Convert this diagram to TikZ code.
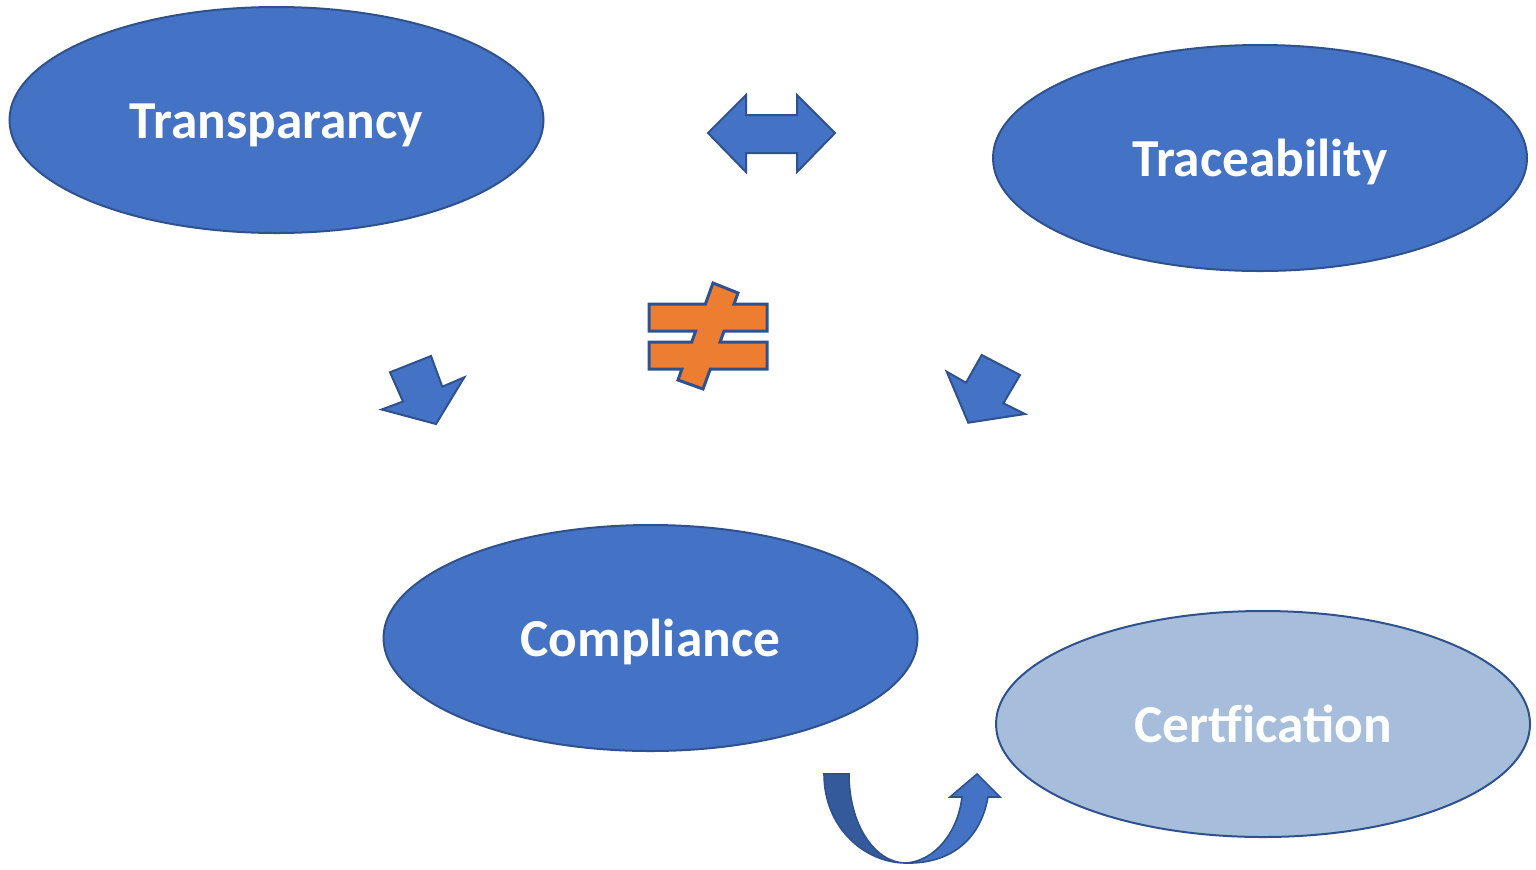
\documentclass[tikz,border=0pt]{standalone}
\usepackage{fontspec}
\setmainfont{Carlito}
\usetikzlibrary{shapes.geometric}
\definecolor{nodeblue}{HTML}{4472C4}
\definecolor{edgeblue}{HTML}{2F528F}
\definecolor{lightblue}{RGB}{166,190,220}
\definecolor{darkband}{RGB}{52,90,156}
\definecolor{neqorange}{HTML}{ED7D31}
\tikzset{
  oval/.style={ellipse, draw=edgeblue, line width=1pt, fill=nodeblue, minimum width=267pt, minimum height=113pt, inner sep=0pt},
  lbl/.style={anchor=base, text=white, font=\bfseries\fontsize{26.7}{30}\selectfont, inner sep=0pt},
  blockarrow/.style={draw=edgeblue, line width=1pt, fill=nodeblue, line join=miter},
}
\begin{document}
\begin{tikzpicture}[x=0.5pt,y=-0.5pt]
\useasboundingbox (0,0) rectangle (1536,869);
% ellipses
\node[oval] (transp) at (276.5,120) {};
\node[oval] (trace) at (1260,158) {};
\node[oval] (compl) at (650.5,638) {};
\node[oval, fill=lightblue] (cert) at (1263,724) {};
% labels
\node[lbl] (transpL) at (276.5,138) {Transparancy};
\node[lbl] (traceL) at (1260,176) {Traceability};
\node[lbl] (complL) at (650.5,656) {Compliance};
\node[lbl] (certL) at (1263,742) {Certfication};
% double arrow
\draw[blockarrow] (708,133) -- (746,95) -- (746,115) -- (797,115) -- (797,95) -- (835,133)
  -- (797,172) -- (797,153) -- (746,153) -- (746,172) -- cycle;
% not-equal sign
\draw[draw=edgeblue, line width=1.5pt, fill=neqorange, line join=miter]
  (649,304) -- (705.4,304) -- (713,283) -- (738,293) -- (734,304) -- (767,304) -- (767,331)
  -- (724.1,331) -- (720.1,342) -- (767,342) -- (767,369) -- (710.3,369) -- (703,389)
  -- (678,380) -- (681.9,369) -- (649,369) -- (649,342) -- (691.7,342) -- (695.7,331)
  -- (649,331) -- cycle;
% left arrow
\draw[blockarrow] (390,372.3) -- (431,356) -- (442.3,386.7) -- (464.3,377.3) -- (436,424)
  -- (381.7,409.5) -- (403,401.5) -- cycle;
% right arrow
\draw[blockarrow] (981.7,355) -- (1020,375) -- (1003.3,403.3) -- (1025,414) -- (968.3,422.7)
  -- (946.7,371.7) -- (966,382.7) -- cycle;
% curved arrow
\draw[draw=edgeblue, line width=0.8pt, fill=darkband]
  (824,774) -- (849,774) .. controls (849,825) and (875,863) .. (906,863)
  .. controls (865,863) and (824,828) .. (824,774) -- cycle;
\draw[draw=edgeblue, line width=0.8pt, fill=nodeblue]
  (906,863) .. controls (935,861) and (958,832) .. (962,797) -- (950,797) -- (977,774)
  -- (1000,797) -- (988,797) .. controls (980,842) and (948,864) .. (906,863) -- cycle;
\end{tikzpicture}
\end{document}
